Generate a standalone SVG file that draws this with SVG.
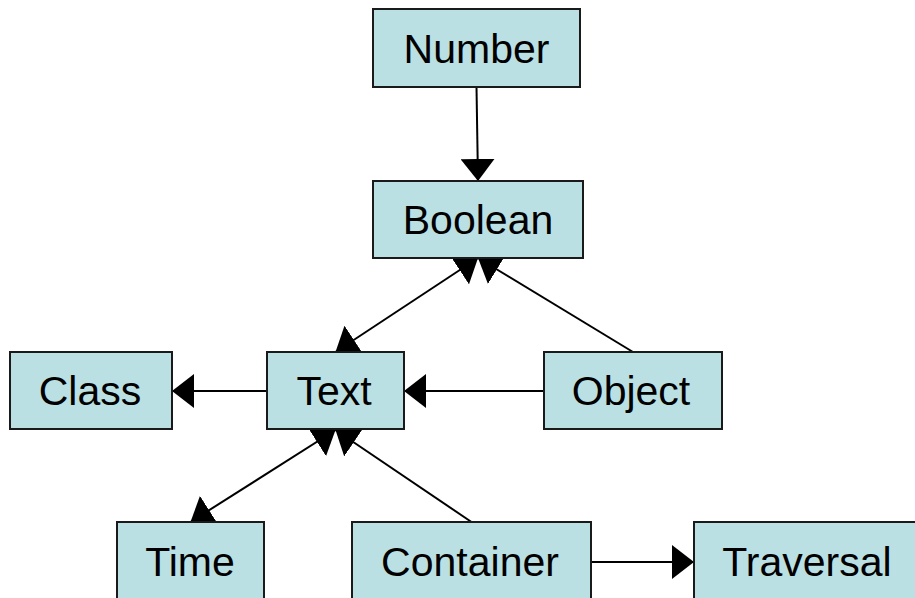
<svg xmlns="http://www.w3.org/2000/svg" width="915" height="598" viewBox="0 0 915 598">
<style>
.box{fill:#bbe0e3;stroke:#1a1a1a;stroke-width:2}
.lbl{font-family:"Liberation Sans",Arial,sans-serif;font-size:41px;fill:#000;text-anchor:middle}
.ln{stroke:#000;stroke-width:2;fill:none}
.e{marker-end:url(#ah)}
.b{marker-start:url(#ahs);marker-end:url(#ah)}
</style>
<defs>
<marker id="ah" viewBox="0 0 22 34" refX="22" refY="17" markerWidth="22" markerHeight="34" markerUnits="userSpaceOnUse" orient="auto">
<path d="M0,0 L22,17 L0,34 z" fill="#000"/>
</marker>
<marker id="ahs" viewBox="0 0 22 34" refX="22" refY="17" markerWidth="22" markerHeight="34" markerUnits="userSpaceOnUse" orient="auto-start-reverse">
<path d="M0,0 L22,17 L0,34 z" fill="#000"/>
</marker>
</defs>
<rect width="915" height="598" fill="#fff"/>
<g id="connectors">
<line class="ln e" x1="476.5" y1="87" x2="478" y2="181"/>
<line class="ln b" x1="335.5" y1="352" x2="478" y2="258"/>
<line class="ln e" x1="633" y1="352" x2="478" y2="258"/>
<line class="ln e" x1="267" y1="391" x2="172" y2="391"/>
<line class="ln e" x1="544" y1="391" x2="404" y2="391"/>
<line class="ln b" x1="335.5" y1="430" x2="190.5" y2="522"/>
<line class="ln e" x1="471.5" y1="522" x2="335.5" y2="430"/>
<line class="ln e" x1="591" y1="562" x2="694" y2="562"/>
</g>
<g id="node-number"><rect class="box" x="373" y="9" width="207" height="78"/><text class="lbl" x="476.5" y="63">Number</text></g>
<g id="node-boolean"><rect class="box" x="373" y="181" width="210" height="77"/><text class="lbl" x="478" y="234">Boolean</text></g>
<g id="node-class"><rect class="box" x="10" y="352" width="162" height="77"/><text class="lbl" x="90" y="405">Class</text></g>
<g id="node-text"><rect class="box" x="267" y="352" width="137" height="77"/><text class="lbl" x="334" y="405">Text</text></g>
<g id="node-object"><rect class="box" x="544" y="352" width="178" height="77"/><text class="lbl" x="631" y="405">Object</text></g>
<g id="node-time"><rect class="box" x="117" y="522" width="147" height="78"/><text class="lbl" x="190" y="576">Time</text></g>
<g id="node-container"><rect class="box" x="352" y="522" width="239" height="78"/><text class="lbl" x="470" y="576">Container</text></g>
<g id="node-traversal"><rect class="box" x="694" y="522" width="228" height="78"/><text class="lbl" x="807" y="576">Traversal</text></g>
</svg>
